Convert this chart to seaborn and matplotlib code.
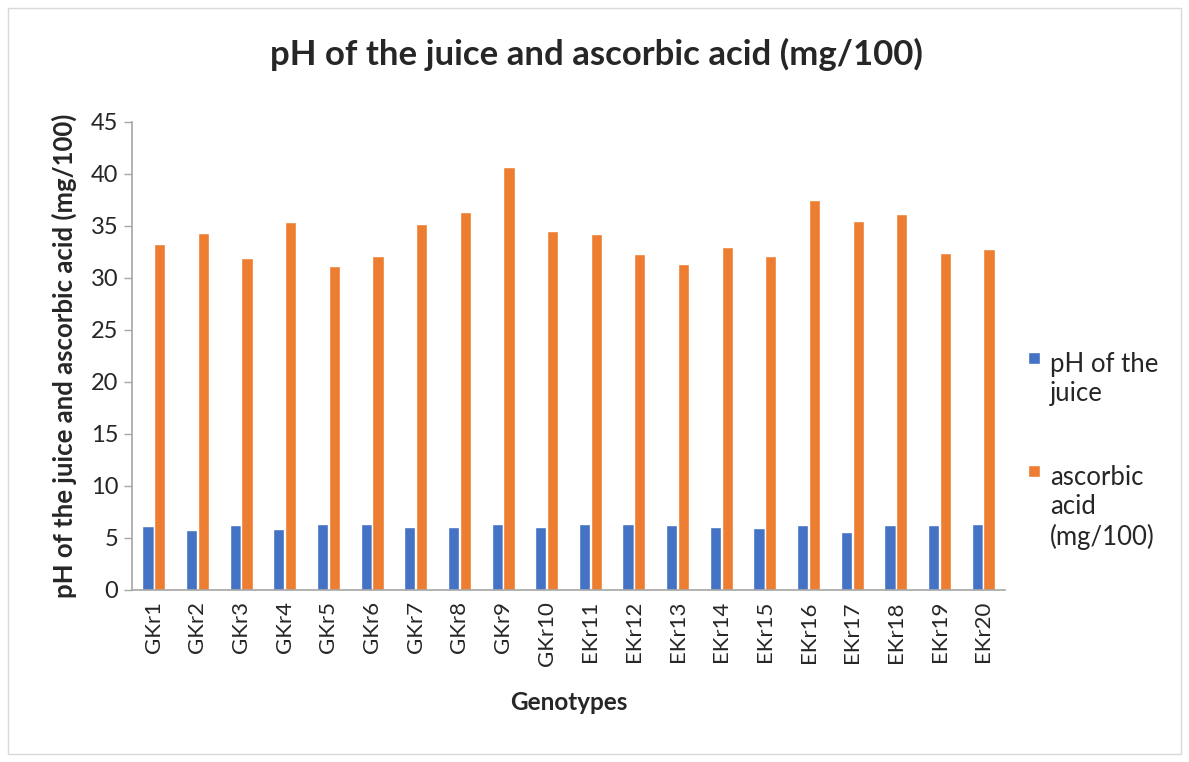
import pandas as pd
import matplotlib
matplotlib.use("Agg")
import matplotlib.pyplot as plt
import seaborn as sns
from matplotlib.patches import Rectangle

# values
genotypes = ["GKr1", "GKr2", "GKr3", "GKr4", "GKr5", "GKr6", "GKr7", "GKr8", "GKr9", "GKr10",
             "EKr11", "EKr12", "EKr13", "EKr14", "EKr15", "EKr16", "EKr17", "EKr18", "EKr19", "EKr20"]
ph_juice = [6.16, 5.77, 6.23, 5.84, 6.33, 6.36, 6.07, 6.07, 6.36, 6.10,
            6.33, 6.39, 6.23, 6.10, 6.00, 6.23, 5.55, 6.26, 6.23, 6.36]
ascorbic = [33.3, 34.3, 31.9, 35.4, 31.2, 32.1, 35.2, 36.3, 40.7, 34.5,
            34.2, 32.3, 31.3, 33.0, 32.1, 37.5, 35.5, 36.15, 32.4, 32.75]
series_names = ["pH of the\njuice", "ascorbic\nacid\n(mg/100)"]
colors = ["#4472C4", "#ED7D31"]

df = pd.DataFrame({"Genotype": genotypes, series_names[0]: ph_juice, series_names[1]: ascorbic})
long_df = df.melt(id_vars="Genotype", var_name="Series", value_name="Value")

sns.set_theme(style="white")
plt.rcParams['font.family'] = ['Lato', 'DejaVu Sans']

fig = plt.figure(figsize=(11.89, 7.62), dpi=100)
ax = fig.add_axes([132 / 1189, 1 - 590 / 762, 873 / 1189, 468 / 762])

sns.barplot(data=long_df, x="Genotype", y="Value", hue="Series", palette=colors,
            width=0.54, gap=0.05, saturation=1, ax=ax, legend=True)

ax.set_ylim(0, 45)
ax.set_yticks(range(0, 46, 5))
ax.set_xlim(-0.5, len(genotypes) - 0.5)
ax.tick_params(axis="y", labelsize=17, length=6, color="#A6A6A6", width=1, direction="out", left=True, pad=4)
ax.tick_params(axis="x", labelsize=16, rotation=90, length=0, pad=8)
for s in ["top", "right"]:
    ax.spines[s].set_visible(False)
for s in ["left", "bottom"]:
    ax.spines[s].set_color("#A6A6A6")
    ax.spines[s].set_linewidth(1.2)

ax.set_xlabel("Genotypes", fontsize=17.5, fontweight="bold", labelpad=18)
ax.set_ylabel("pH of the juice and ascorbic acid (mg/100)", fontsize=18.5, fontweight="bold", labelpad=10)
fig.suptitle("pH of the juice and ascorbic acid (mg/100)", x=0.502, y=0.95,
             fontsize=25, fontweight="bold")

handles, labels = ax.get_legend_handles_labels()
leg = ax.legend(handles, labels, loc="upper left", bbox_to_anchor=(1.026, 0.508), frameon=False,
                fontsize=18.5, handlelength=0.47, handleheight=0.34, handletextpad=0.4,
                labelspacing=2.3, borderaxespad=0, borderpad=0)
# put the colour box next to the first line of each label, as in the original
for col in leg._legend_handle_box.get_children():
    for row in col.get_children():
        row.align = "top"
        row.get_children()[0].set_offset((0, -7))

fig.patches.append(Rectangle((8 / 1189, 8 / 762), 1 - 16 / 1189, 1 - 16 / 762,
                             transform=fig.transFigure, fill=False, edgecolor="#D9D9D9", linewidth=1))

fig.savefig("out.png", dpi=100)
